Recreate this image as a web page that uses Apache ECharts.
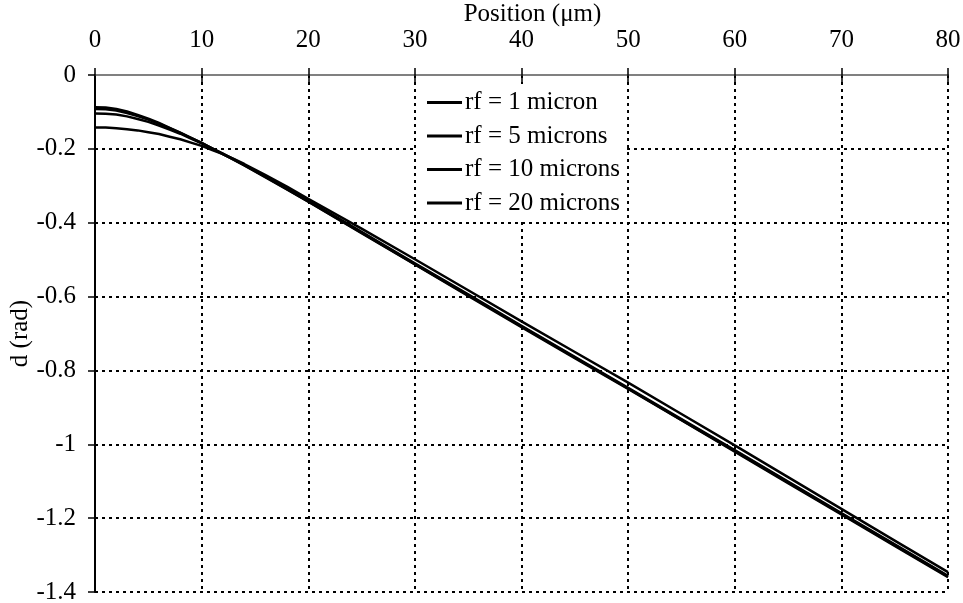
<!DOCTYPE html>
<html>
<head>
<meta charset="utf-8">
<script src="https://cdn.jsdelivr.net/npm/echarts@6/dist/echarts.min.js"></script>
<style>html,body{margin:0;padding:0;background:#fff}#c{width:963px;height:603px}</style>
</head>
<body>
<div id="c"></div>
<script>
var positions = [0,1,2,3,4,5,6,7,8,9,10,11,12,13,14,16,18,20,25,30,35,40,45,50,55,60,65,70,75,80];
var rf1  = [-0.087,-0.088,-0.092,-0.099,-0.108,-0.118,-0.130,-0.143,-0.156,-0.170,-0.184,-0.199,-0.214,-0.229,-0.245,-0.277,-0.310,-0.343,-0.428,-0.513,-0.598,-0.683,-0.767,-0.850,-0.935,-1.020,-1.105,-1.190,-1.275,-1.360];
var rf5  = [-0.092,-0.093,-0.096,-0.103,-0.111,-0.121,-0.132,-0.144,-0.157,-0.170,-0.184,-0.199,-0.214,-0.229,-0.244,-0.276,-0.309,-0.342,-0.427,-0.512,-0.596,-0.681,-0.765,-0.849,-0.934,-1.018,-1.103,-1.188,-1.273,-1.358];
var rf10 = [-0.104,-0.105,-0.107,-0.112,-0.119,-0.127,-0.137,-0.148,-0.159,-0.172,-0.185,-0.199,-0.213,-0.228,-0.243,-0.275,-0.307,-0.340,-0.425,-0.510,-0.594,-0.679,-0.763,-0.847,-0.932,-1.016,-1.101,-1.186,-1.271,-1.356];
var rf20 = [-0.142,-0.142,-0.144,-0.147,-0.150,-0.155,-0.160,-0.167,-0.174,-0.183,-0.192,-0.203,-0.214,-0.227,-0.241,-0.271,-0.302,-0.335,-0.416,-0.499,-0.583,-0.667,-0.750,-0.833,-0.918,-1.003,-1.089,-1.175,-1.261,-1.346];
var seriesNames = ['rf = 1 micron','rf = 5 microns','rf = 10 microns','rf = 20 microns'];
var seriesValues = [rf1, rf5, rf10, rf20];

var FONT = 'Liberation Serif';
var FS = 25;
var chart = echarts.init(document.getElementById('c'), null, {renderer:'canvas'});
function pairs(vals){ return positions.map(function(x,i){ return [x, vals[i]]; }); }
var series = seriesNames.map(function(n,i){
  return {
    name: n, type: 'line', data: pairs(seriesValues[i]), xAxisIndex: 0,
    smooth: false, symbol: 'none', showSymbol: false,
    lineStyle: {color: '#000', width: 2.5, join: 'round'}, itemStyle: {color: '#000'},
    z: 3
  };
});
chart.setOption({
  animation: false,
  grid: {left: 95, right: 15, top: 75, bottom: 11, containLabel: false, outerBoundsMode: 'none'},
  legend: {
    orient: 'vertical', left: 416, top: 84,
    backgroundColor: '#fff',
    padding: [6, 7, 6, 11],
    icon: 'rect', itemWidth: 35, itemHeight: 3, itemGap: 8.5,
    itemStyle: {color: '#000'},
    textStyle: {fontFamily: FONT, fontSize: FS, color: '#000', lineHeight: 25, padding: [0,0,0,-2]},
    data: seriesNames
  },
  xAxis: [{
    type: 'value', position: 'top', min: 0, max: 80, interval: 10,
    name: 'Position (\u03bcm)', nameLocation: 'middle', nameGap: 48, nameMoveOverlap: false,
    nameTextStyle: {fontFamily: FONT, fontSize: FS, color: '#000', padding: [0, 0, 0, 22]},
    axisLine: {show: true, lineStyle: {color: '#808080', width: 2}},
    axisTick: {show: true, length: 7, lineStyle: {color: '#000', width: 1.5}},
    axisLabel: {fontFamily: FONT, fontSize: FS, color: '#000', margin: 22},
    splitLine: {show: true, lineStyle: {color: '#000', width: 2, type: [3, 4]}}
  }, {
    type: 'value', position: 'top', min: 0, max: 80, interval: 10,
    axisLine: {show: false},
    axisTick: {show: true, inside: true, length: 7, lineStyle: {color: '#000', width: 1.5}},
    axisLabel: {show: false},
    splitLine: {show: false}
  }],
  yAxis: {
    type: 'value', min: -1.4, max: 0, interval: 0.2,
    name: 'd (rad)', nameLocation: 'middle', nameGap: 62, nameRotate: 90, nameMoveOverlap: false,
    nameTextStyle: {fontFamily: FONT, fontSize: FS, color: '#000'},
    axisLine: {show: true, lineStyle: {color: '#000', width: 2}},
    axisTick: {show: true, length: 7, lineStyle: {color: '#000', width: 1.5}},
    axisLabel: {fontFamily: FONT, fontSize: FS, color: '#000', margin: 19},
    splitLine: {show: true, lineStyle: {color: '#000', width: 2, type: [3, 4]}}
  },
  series: series
});
</script>
</body>
</html>
